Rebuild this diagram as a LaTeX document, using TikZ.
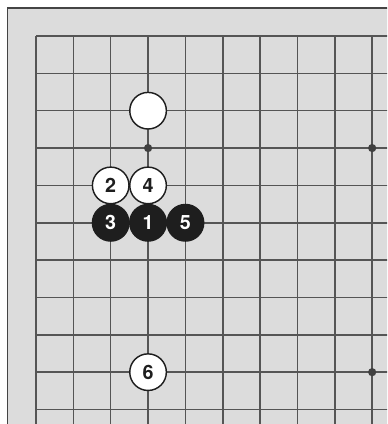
\documentclass[tikz,border=0pt]{standalone}
\usepackage{fontspec}
\setmainfont{TeX Gyre Heros}
\usepackage{xcolor}
\definecolor{boardgray}{HTML}{DCDCDC}
\definecolor{gridgray}{HTML}{555555}
\definecolor{ink}{HTML}{1E1E1E}

\begin{document}
\begin{tikzpicture}[
  gridline/.style={draw=gridgray, line width=1.2pt},
  edge/.style={draw=gridgray!80!black, line width=1.3pt},
  whitestone/.style={circle, draw=ink, line width=1.1pt, fill=white, minimum size=0.98cm, inner sep=0pt, font=\fontsize{15}{15}\selectfont\bfseries, text=ink},
  blackstone/.style={circle, draw=ink, line width=1.1pt, fill=ink, minimum size=0.98cm, inner sep=0pt, font=\fontsize{15}{15}\selectfont\bfseries, text=white},
  hoshi/.style={circle, fill=ink!85, minimum size=0.22cm, inner sep=0pt}
]
\useasboundingbox (-0.964,0.964) rectangle (9.398,-10.388);
\clip (-0.964,0.964) rectangle (9.398,-10.388);

% board and its two edges
\fill[boardgray] (-0.763,0.75) rectangle (9.6,-10.6);
\draw[edge] (-0.763,-10.6) -- (-0.763,0.75) -- (9.6,0.75);

% lines
\draw[gridline] (0,-10.6) grid (9.6,0);

% star points
\node[hoshi] (h1) at (3,-3) {};
\node[hoshi] (h2) at (9,-3) {};
\node[hoshi] (h3) at (9,-9) {};

% stones
\node[whitestone] (w0) at (3,-2) {};
\node[blackstone] (s1) at (3,-5) {1};
\node[whitestone] (s2) at (2,-4) {2};
\node[blackstone] (s3) at (2,-5) {3};
\node[whitestone] (s4) at (3,-4) {4};
\node[blackstone] (s5) at (4,-5) {5};
\node[whitestone] (s6) at (3,-9) {6};
\end{tikzpicture}
\end{document}
